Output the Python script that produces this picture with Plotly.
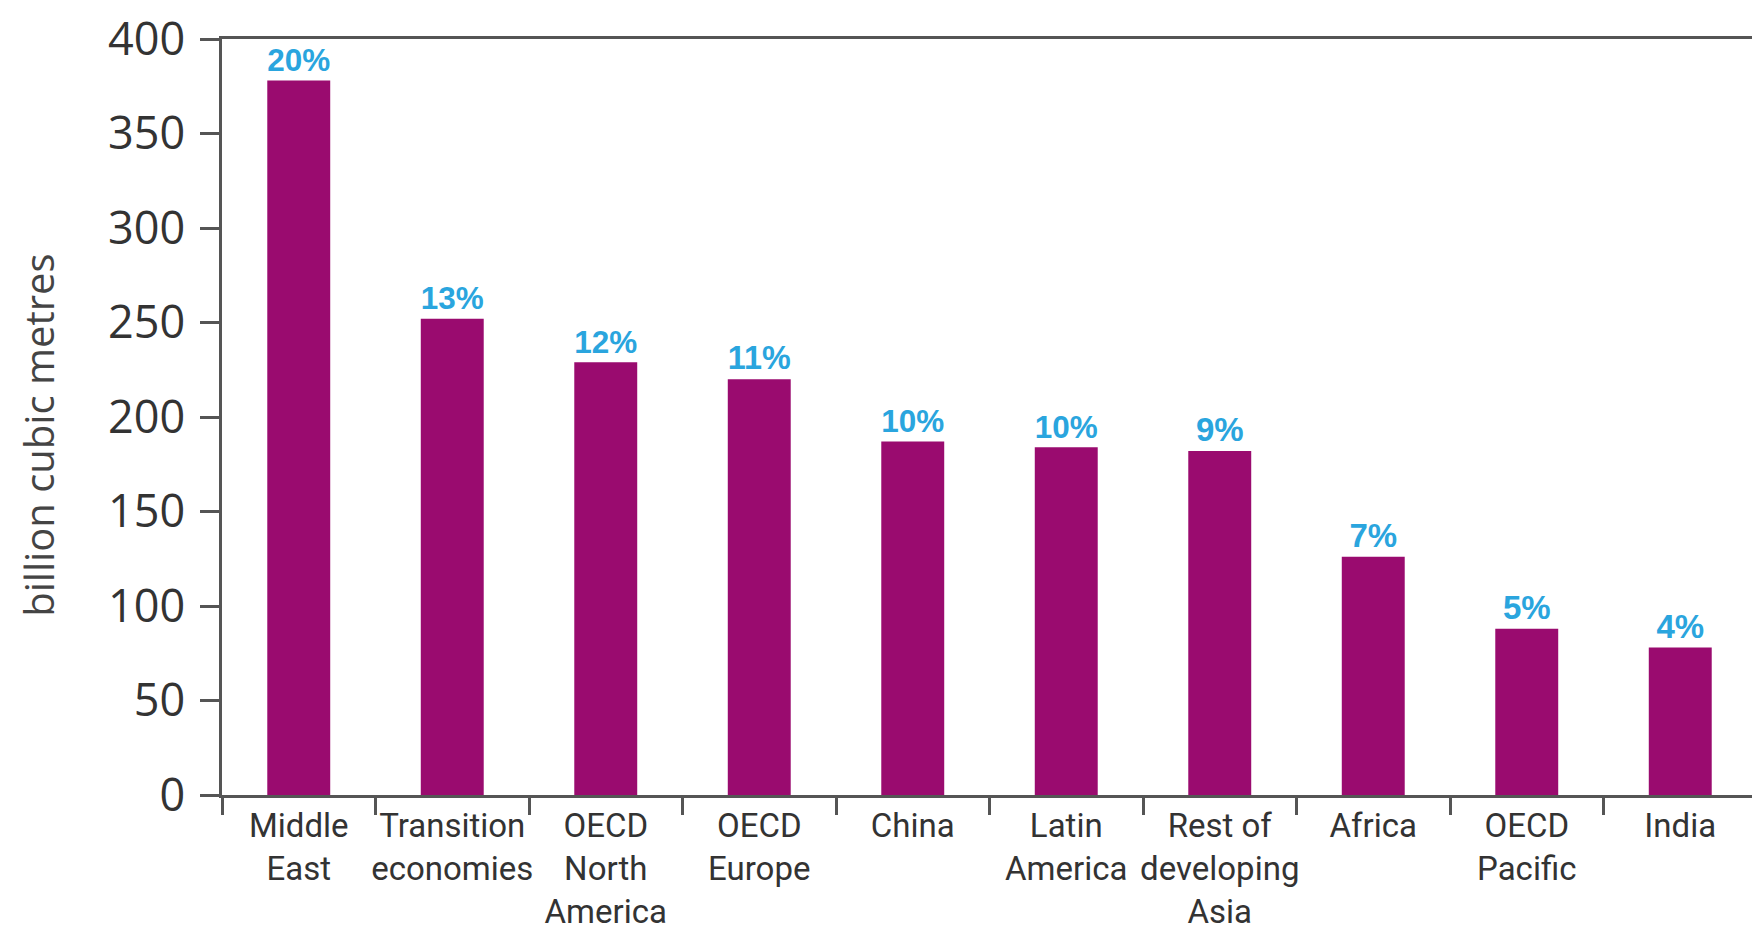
import plotly.graph_objects as go

regions = ["Middle<br>East", "Transition<br>economies", "OECD<br>North<br>America", "OECD<br>Europe",
           "China", "Latin<br>America", "Rest of<br>developing<br>Asia", "Africa", "OECD<br>Pacific", "India"]
volumes = [378, 252, 229, 220, 187, 184, 182, 126, 88, 78]
shares = ["20%", "13%", "12%", "11%", "10%", "10%", "9%", "7%", "5%", "4%"]
y_ticks = [0, 50, 100, 150, 200, 250, 300, 350, 400]

BAR = "#9a0b6f"
LABEL = "#2aa5de"
AXIS = "#555555"

fig = go.Figure(go.Bar(
    x=regions, y=volumes, text=shares,
    textposition="outside", cliponaxis=False,
    textfont=dict(family="Arial, Liberation Sans", size=33, color=LABEL, weight="bold"),
    marker=dict(color=BAR, line=dict(width=0)),
    width=0.41,
))

fig.update_layout(
    width=1760, height=950,
    margin=dict(l=214, r=11, t=31, b=163, autoexpand=False),
    paper_bgcolor="white", plot_bgcolor="white",
    showlegend=False,
    annotations=[dict(
        text="billion cubic metres", textangle=-90, showarrow=False,
        xref="paper", yref="paper", x=-0.1195, y=0.476, xanchor="center", yanchor="middle",
        font=dict(family="Open Sans, sans-serif", size=40, color="#444444"),
    )],
)
fig.update_xaxes(
    type="category", tickson="boundaries", ticks="outside", ticklen=17, tickwidth=2.5,
    tickcolor=AXIS, showline=True, linecolor=AXIS, linewidth=2.5, mirror=True,
    tickangle=0, automargin=False,
    tickfont=dict(family="Roboto, sans-serif", size=33, color="#333333"),
    showgrid=False,
)
fig.update_yaxes(
    range=[0, 400], tickvals=y_ticks, ticks="outside", ticklen=19, tickwidth=2.5,
    tickcolor=AXIS, showline=True, linecolor=AXIS, linewidth=2.5, mirror=True,
    automargin=False, ticklabelstandoff=6, ticklabeloverflow="allow",
    tickfont=dict(family="Open Sans, sans-serif", size=45, color="#333333"),
    showgrid=False, zeroline=False,
)

fig.write_html("out.html")
